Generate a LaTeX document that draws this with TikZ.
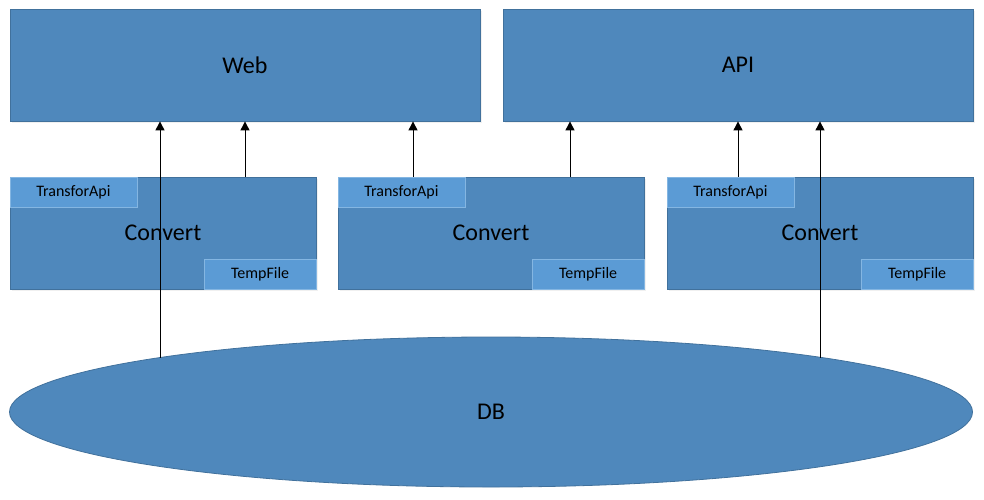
\documentclass[tikz,border=0pt]{standalone}
\usepackage{fontspec}
\setmainfont{Carlito}
\usetikzlibrary{positioning,arrows.meta,shapes.geometric,shadows}
\definecolor{boxblue}{RGB}{79,136,188}
\definecolor{boxline}{RGB}{65,113,156}
\definecolor{subblue}{RGB}{91,155,213}
\definecolor{subline}{RGB}{132,182,226}

\begin{document}
\begin{tikzpicture}[x=1pt,y=-1pt,
    box/.style={rectangle,draw=boxline,fill=boxblue,line width=0.8pt,inner sep=0pt,
      drop shadow={opacity=0.12,shadow xshift=1.5pt,shadow yshift=-1.5pt},
      font=\fontsize{24}{28}\selectfont},
    subbox/.style={rectangle,draw=subline,fill=subblue,line width=0.6pt,inner sep=0pt,
      minimum height=30pt,font=\fontsize{16}{19}\selectfont},
    arr/.style={-{Triangle[width=9pt,length=9pt]},line width=1pt}]
  \useasboundingbox (0,0) rectangle (984,499);

  % top layer
  \node[box,minimum width=470pt,minimum height=112pt] (web) at (245,65) {Web};
  \node[box,minimum width=470pt,minimum height=112pt] (api) at (738,65) {API};

  % converters
  \node[box,minimum width=306pt,minimum height=112pt] (conv1) at (163,233) {Convert};
  \node[box,minimum width=306pt,minimum height=112pt] (conv2) at (491,233) {Convert};
  \node[box,minimum width=306pt,minimum height=112pt] (conv3) at (820,233) {Convert};

  \foreach \i in {1,2,3} {
    \node[subbox,minimum width=127pt,anchor=north west] (ta\i) at (conv\i.north west) {TransforApi};
    \node[subbox,minimum width=112pt,anchor=south east] (tf\i) at (conv\i.south east) {TempFile};
  }

  % database
  \node[ellipse,draw=boxline,fill=boxblue,line width=0.8pt,inner sep=0pt,
    minimum width=963pt,minimum height=150pt,font=\fontsize{24}{28}\selectfont] (db) at (491,412) {DB};
  \coordinate (dbweb) at (160,357.6);
  \coordinate (dbapi) at (820,357.9);

  % connections
  \draw[arr] (dbweb) -- (dbweb |- web.south);
  \draw[arr] (conv1.north -| web.south) -- (web.south);
  \draw[arr] ([xshift=-78pt]conv2.north) -- ([xshift=-78pt]conv2.north |- web.south);
  \draw[arr] ([xshift=79pt]conv2.north) -- ([xshift=79pt]conv2.north |- api.south);
  \draw[arr] (conv3.north -| api.south) -- (api.south);
  \draw[arr] (dbapi) -- (dbapi |- api.south);
\end{tikzpicture}
\end{document}
